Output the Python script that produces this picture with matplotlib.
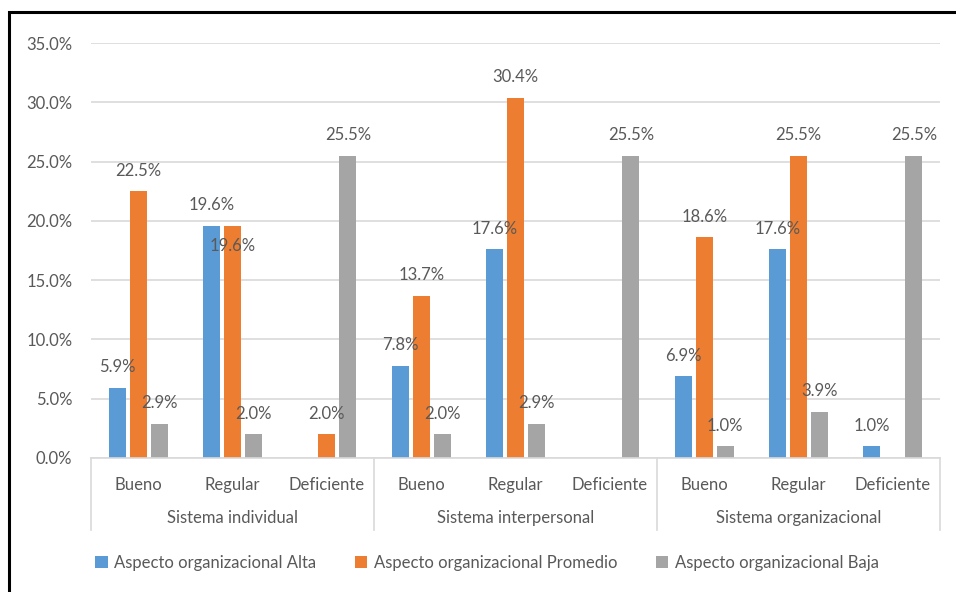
import numpy as np
import matplotlib
matplotlib.use("Agg")
from matplotlib import pyplot as plt
from matplotlib.patches import Rectangle
from matplotlib.ticker import FuncFormatter

plt.rcParams['font.family'] = ['Lato', 'DejaVu Sans']

# niveles y sistemas
niveles = ['Bueno', 'Regular', 'Deficiente']
sistemas = ['Sistema individual', 'Sistema interpersonal', 'Sistema organizacional']
series = ['Aspecto organizacional Alta', 'Aspecto organizacional Promedio',
          'Aspecto organizacional Baja']

# porcentajes por categoria (nan = sin barra)
alta = [5.9, 19.6, np.nan, 7.8, 17.6, np.nan, 6.9, 17.6, 1.0]
promedio = [22.5, 19.6, 2.0, 13.7, 30.4, np.nan, 18.6, 25.5, np.nan]
baja = [2.9, 2.0, 25.5, 2.0, 2.9, 25.5, 1.0, 3.9, 25.5]

colores = ['#5B9BD5', '#ED7D31', '#A5A5A5']
gris_txt = '#595959'
gris_lin = '#D9D9D9'
fs = 12

fig = plt.figure(figsize=(9.56, 5.92), dpi=100)
ax = fig.add_axes([91/956, 1-458/592, (940-91)/956, (458-43)/592])

x = np.arange(9) + 0.5
offs = [-0.222, 0, 0.222]
for k, (vals, col, nom) in enumerate(zip([alta, promedio, baja], colores, series)):
    vals = np.array(vals, dtype=float)
    ax.bar(x + offs[k], np.nan_to_num(vals), width=0.18, color=col, label=nom, zorder=2)
    for i, v in enumerate(vals):
        if np.isnan(v):
            continue
        dy = 14.8
        # etiqueta que se solapa: se coloca dentro de la barra
        if k == 1 and i == 1:
            dy = -14.5
        ax.annotate(f'{v:.1f}%', (x[i] + offs[k], v), xytext=(0, dy),
                    textcoords='offset points', ha='center', va='center',
                    fontsize=fs, color=gris_txt, zorder=3)

ax.set_xlim(0, 9)
ax.set_ylim(0, 35)
ax.set_yticks(np.arange(0, 36, 5))
ax.yaxis.set_major_formatter(FuncFormatter(lambda v, p: f'{v:.1f}%'))
ax.grid(axis='y', color=gris_lin, lw=1.2, zorder=0)
ax.set_axisbelow(True)
for s in ['top', 'right', 'left']:
    ax.spines[s].set_visible(False)
ax.spines['bottom'].set_color(gris_lin)
ax.spines['bottom'].set_linewidth(1.2)

ax.set_xticks(x)
ax.set_xticklabels(niveles * 3)
ax.tick_params(axis='x', length=0, pad=13.5, labelsize=fs, labelcolor=gris_txt)
ax.tick_params(axis='y', length=0, pad=13.5, labelsize=fs, labelcolor=gris_txt)

# separadores y etiquetas de grupo
trans = ax.get_xaxis_transform()
for xs in [0, 3, 6, 9]:
    ax.plot([xs, xs], [0, -0.1735], transform=trans, color=gris_lin, lw=1.2, clip_on=False)
for g, nom in enumerate(sistemas):
    ax.text(g*3 + 1.5, -0.1446, nom, transform=trans, ha='center', va='center',
            fontsize=fs, color=gris_txt)

leg = fig.legend(loc='center left', bbox_to_anchor=(80/956, 1-563/592), ncol=3,
                 frameon=False, fontsize=fs, handlelength=0.75, handleheight=0.75,
                 handletextpad=0.4, columnspacing=2.3)
for t in leg.get_texts():
    t.set_color(gris_txt)

# marco del grafico
fig.patches.append(Rectangle((9/956, -0.1), 1.2, 1.1 - 12/592, transform=fig.transFigure,
                             fill=False, edgecolor='black', lw=2.2))

fig.savefig('out.png', dpi=100)
